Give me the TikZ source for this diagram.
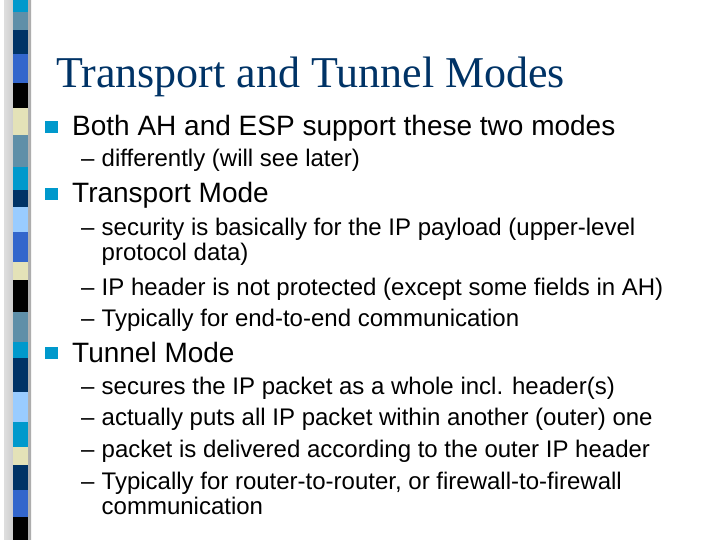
\documentclass[tikz,border=0pt]{standalone}
\usepackage{fontspec}
\usepackage{tikz}
\newfontfamily\bodyfont{Liberation Sans}
\newfontfamily\titlefont{Liberation Serif}
\definecolor{navy}{RGB}{0,51,102}
\definecolor{cyanbul}{RGB}{0,153,204}
\definecolor{steel}{RGB}{95,143,168}
\definecolor{royal}{RGB}{51,102,204}
\definecolor{beige}{RGB}{228,226,184}
\definecolor{lightbl}{RGB}{153,204,255}
\definecolor{stripegrey}{RGB}{190,190,190}

\begin{document}
\begin{tikzpicture}[x=1pt,y=-1pt,
    every node/.style={inner sep=0pt,anchor=base west},
    ttl/.style={font=\titlefont\fontsize{44}{48}\selectfont,text=navy},
    lone/.style={font=\bodyfont\fontsize{28}{32}\selectfont},
    ltwo/.style={font=\bodyfont\fontsize{24}{28}\selectfont},
    bul/.style={fill=cyanbul,minimum size=12.5pt,anchor=center}]
  \useasboundingbox[fill=white] (0,0) rectangle (720,540);
  % side stripe
  \shade[left color=stripegrey!50,right color=stripegrey!90!black] (4,0) rectangle (31,540);
  \foreach \ya/\yb/\col in {0/12/cyanbul,12/30/steel,30/54/navy,54/83/royal,
      83/108/black,108/135/beige,135/167/steel,167/190/cyanbul,190/207/navy,
      207/232/lightbl,232/262/royal,262/280/beige,280/312/black,312/342/steel,
      342/358/cyanbul,358/392/navy,392/422/lightbl,422/447/cyanbul,447/465/beige,
      465/490/navy,490/517/royal,517/540/black}
    \fill[\col] (13,\ya) rectangle (28,\yb);

  \node[ttl] (title) at (56,88) {Transport and Tunnel Modes};

  \node[bul] (b1) at (51.5,127) {};
  \node[lone] (both) at (72,136) {Both AH and ESP support these two modes};
  \node[ltwo] (d1) at (81,167) {–};
  \node[ltwo] (diff) at (101.5,167) {differently (will see later)};

  \node[bul] (b2) at (51.5,194) {};
  \node[lone] (trans) at (72,203) {Transport Mode};
  \node[ltwo] (d2) at (81,236) {–};
  \node[ltwo] (secu) at (101.5,236) {security is basically for the IP payload (upper-level};
  \node[ltwo] (proto) at (101.5,260) {protocol data)};
  \node[ltwo] (d3) at (81,295) {–};
  \node[ltwo] (iphdr) at (101.5,295) {IP header is not protected (except some fields in AH)};
  \node[ltwo] (d4) at (81,326) {–};
  \node[ltwo] (endend) at (101.5,326) {Typically for end-to-end communication};

  \node[bul] (b3) at (51.5,353) {};
  \node[lone] (tunnel) at (72,362) {Tunnel Mode};
  \node[ltwo] (d5) at (81,394) {–};
  \node[ltwo] (whole) at (101.5,394) {secures the IP packet as a whole incl. header(s)};
  \node[ltwo] (d6) at (81,425) {–};
  \node[ltwo] (outer) at (101.5,425) {actually puts all IP packet within another (outer) one};
  \node[ltwo] (d7) at (81,457) {–};
  \node[ltwo] (deliv) at (101.5,457) {packet is delivered according to the outer IP header};
  \node[ltwo] (d8) at (81,489) {–};
  \node[ltwo] (router) at (101.5,489) {Typically for router-to-router, or firewall-to-firewall};
  \node[ltwo] (comm) at (101.5,514) {communication};
\end{tikzpicture}
\end{document}
